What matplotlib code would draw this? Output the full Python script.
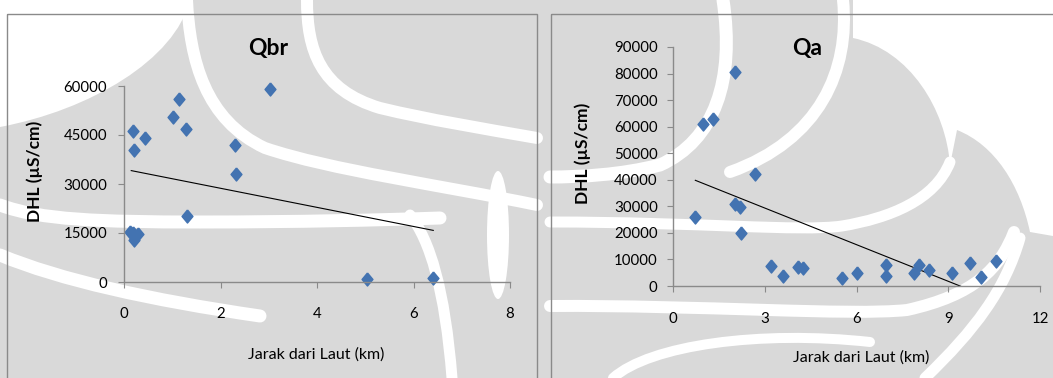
import matplotlib
matplotlib.use("Agg")
import matplotlib.pyplot as plt
from matplotlib.path import Path
from matplotlib.patches import PathPatch, Rectangle, Ellipse

plt.rcParams['font.family'] = ['Lato', 'DejaVu Sans']

# --- data ---
qbr_x = [0.19, 0.20, 0.43, 0.12, 0.18, 0.28, 0.20, 1.02, 1.13, 1.28, 1.31, 2.30, 2.33, 3.03, 5.03, 6.41]
qbr_y = [46200, 40400, 44000, 15300, 14900, 14600, 12800, 50600, 55900, 46900, 20200, 41900, 33200, 59000, 1000, 1300]
qbr_trend_x = [0.15, 6.41]
qbr_trend_y = [34100, 15800]

qa_x = [0.73, 0.97, 1.31, 2.04, 2.02, 2.20, 2.21, 2.68, 3.19, 3.61, 4.09, 4.25, 5.54, 6.01,
        6.95, 6.98, 7.89, 8.04, 8.38, 9.11, 9.72, 10.06, 10.56]
qa_y = [25800, 61000, 62900, 80500, 31000, 29600, 20100, 42300, 7500, 3600, 7300, 6900, 3100, 5000,
        3900, 8000, 5000, 8000, 6200, 5000, 8800, 3500, 9400]
qa_trend_x = [0.73, 10.56]
qa_trend_y = [39800, -5400]

qbr_xticks = [0, 2, 4, 6, 8]
qbr_yticks = [0, 15000, 30000, 45000, 60000]
qa_xticks = [0, 3, 6, 9, 12]
qa_yticks = list(range(0, 90001, 10000))

W, H = 1053, 378
GREY = '#d9d9d9'
EDGE = '#8a8a8a'
MARK = '#4373b1'

fig = plt.figure(figsize=(W / 100, H / 100), dpi=100)
fig.patch.set_facecolor(GREY)

# background watermark (light grey with white swirls), pixel coords y-down
bg = fig.add_axes([0, 0, 1, 1], zorder=-10)
bg.set_xlim(0, W)
bg.set_ylim(H, 0)
bg.axis('off')


def band(pts, width):
    codes = [Path.MOVETO] + [Path.CURVE4] * (len(pts) - 1)
    bg.add_patch(PathPatch(Path(pts, codes), fill=False, ec='white',
                           lw=width * 0.72, capstyle='round'))


def blob(pts, codes):
    bg.add_patch(PathPatch(Path(pts, codes), fc='white', ec='none'))


M, L, C, Z = Path.MOVETO, Path.LINETO, Path.CURVE4, Path.CLOSEPOLY

# left half
blob([(0, 0), (190, 0), (175, 60), (90, 110), (0, 127), (0, 0)],
     [M, L, C, C, C, Z])
band([(187, 0), (190, 60), (205, 120), (265, 148), (330, 170), (440, 185), (537, 205)], 12)
band([(307, 0), (307, 50), (320, 90), (380, 108), (430, 120), (480, 128), (537, 138)], 12)
band([(0, 205), (40, 220), (100, 222), (200, 222), (300, 222), (380, 220), (440, 218)], 13)
band([(0, 255), (60, 280), (150, 300), (260, 316)], 13)
band([(410, 215), (430, 240), (445, 290), (452, 378)], 11)
bg.add_patch(Ellipse((498, 235), 22, 128, fc='white', ec='none'))
# right half
band([(723, 0), (735, 80), (715, 140), (660, 165), (620, 175), (580, 177), (550, 177)], 13)
band([(843, 0), (850, 70), (820, 140), (730, 172)], 12)
band([(550, 222), (700, 222), (800, 232), (842, 226), (890, 218), (935, 200), (950, 162)], 11)
band([(550, 306), (700, 305), (850, 316), (907, 310), (975, 295), (1000, 268), (1014, 232)], 12)
band([(1020, 238), (1005, 290), (975, 330), (925, 378)], 11)
band([(613, 378), (650, 345), (760, 330), (870, 342)], 10)
blob([(853, 0), (1053, 0), (1053, 236), (1030, 232),
      (1020, 185), (995, 145), (957, 130), (950, 165),
      (946, 110), (910, 50), (853, 38), (853, 0)],
     [M, L, L, L, C, C, C, L, C, C, C, Z])

# chart frames
bg.add_patch(Rectangle((7, 14), 530, 380, fill=False, ec=EDGE, lw=1.0))
bg.add_patch(Rectangle((550.5, 14), 520, 380, fill=False, ec=EDGE, lw=1.0))

diamond = [(0, 1.2), (1, 0), (0, -1.2), (-1, 0), (0, 1.2)]


def frac(x0, y0, x1, y1):
    return [x0 / W, 1 - y1 / H, (x1 - x0) / W, (y1 - y0) / H]


def style(ax, xlim, ylim, xticks, yticks, xpad, ypad):
    ax.set_facecolor('none')
    ax.set_xlim(*xlim)
    ax.set_ylim(*ylim)
    ax.set_xticks(xticks)
    ax.set_yticks(yticks)
    for s in ['top', 'right']:
        ax.spines[s].set_visible(False)
    for s in ['left', 'bottom']:
        ax.spines[s].set_color(EDGE)
        ax.spines[s].set_linewidth(1.0)
    ax.tick_params(axis='both', direction='out', length=4, width=0.8, color=EDGE,
                   labelsize=10.8, labelcolor='black')
    ax.tick_params(axis='x', pad=xpad)
    ax.tick_params(axis='y', pad=ypad)


# Qbr
ax1 = fig.add_axes(frac(124, 86, 510, 282))
style(ax1, (0, 8), (0, 60000), qbr_xticks, qbr_yticks, 14, 8)
ax1.plot(qbr_trend_x, qbr_trend_y, color='black', lw=0.8)
ax1.plot(qbr_x, qbr_y, ls='none', marker=diamond, ms=9.4, color=MARK, mec=MARK, clip_on=False)

# Qa
ax2 = fig.add_axes(frac(673, 47, 1040, 286))
style(ax2, (0, 12), (0, 90000), qa_xticks, qa_yticks, 15, 7)
ax2.plot(qa_trend_x, qa_trend_y, color='black', lw=0.8)
ax2.plot(qa_x, qa_y, ls='none', marker=diamond, ms=9.4, color=MARK, mec=MARK, clip_on=False)


def ftext(x, y, s, **kw):
    fig.text(x / W, 1 - y / H, s, ha='center', va='center', **kw)


ftext(268, 48, 'Qbr', fontsize=16.5, fontweight='bold')
ftext(807, 48, 'Qa', fontsize=16.5, fontweight='bold')
ftext(316, 355, 'Jarak dari Laut (km)', fontsize=11.5)
ftext(861, 358, 'Jarak dari Laut (km)', fontsize=11.5)
ftext(35, 171, 'DHL (\u00b5S/cm)', fontsize=12.5, fontweight='bold', rotation=90)
ftext(583, 153, 'DHL (\u00b5S/cm)', fontsize=12.5, fontweight='bold', rotation=90)

fig.savefig('out.png', dpi=100, facecolor=GREY)
